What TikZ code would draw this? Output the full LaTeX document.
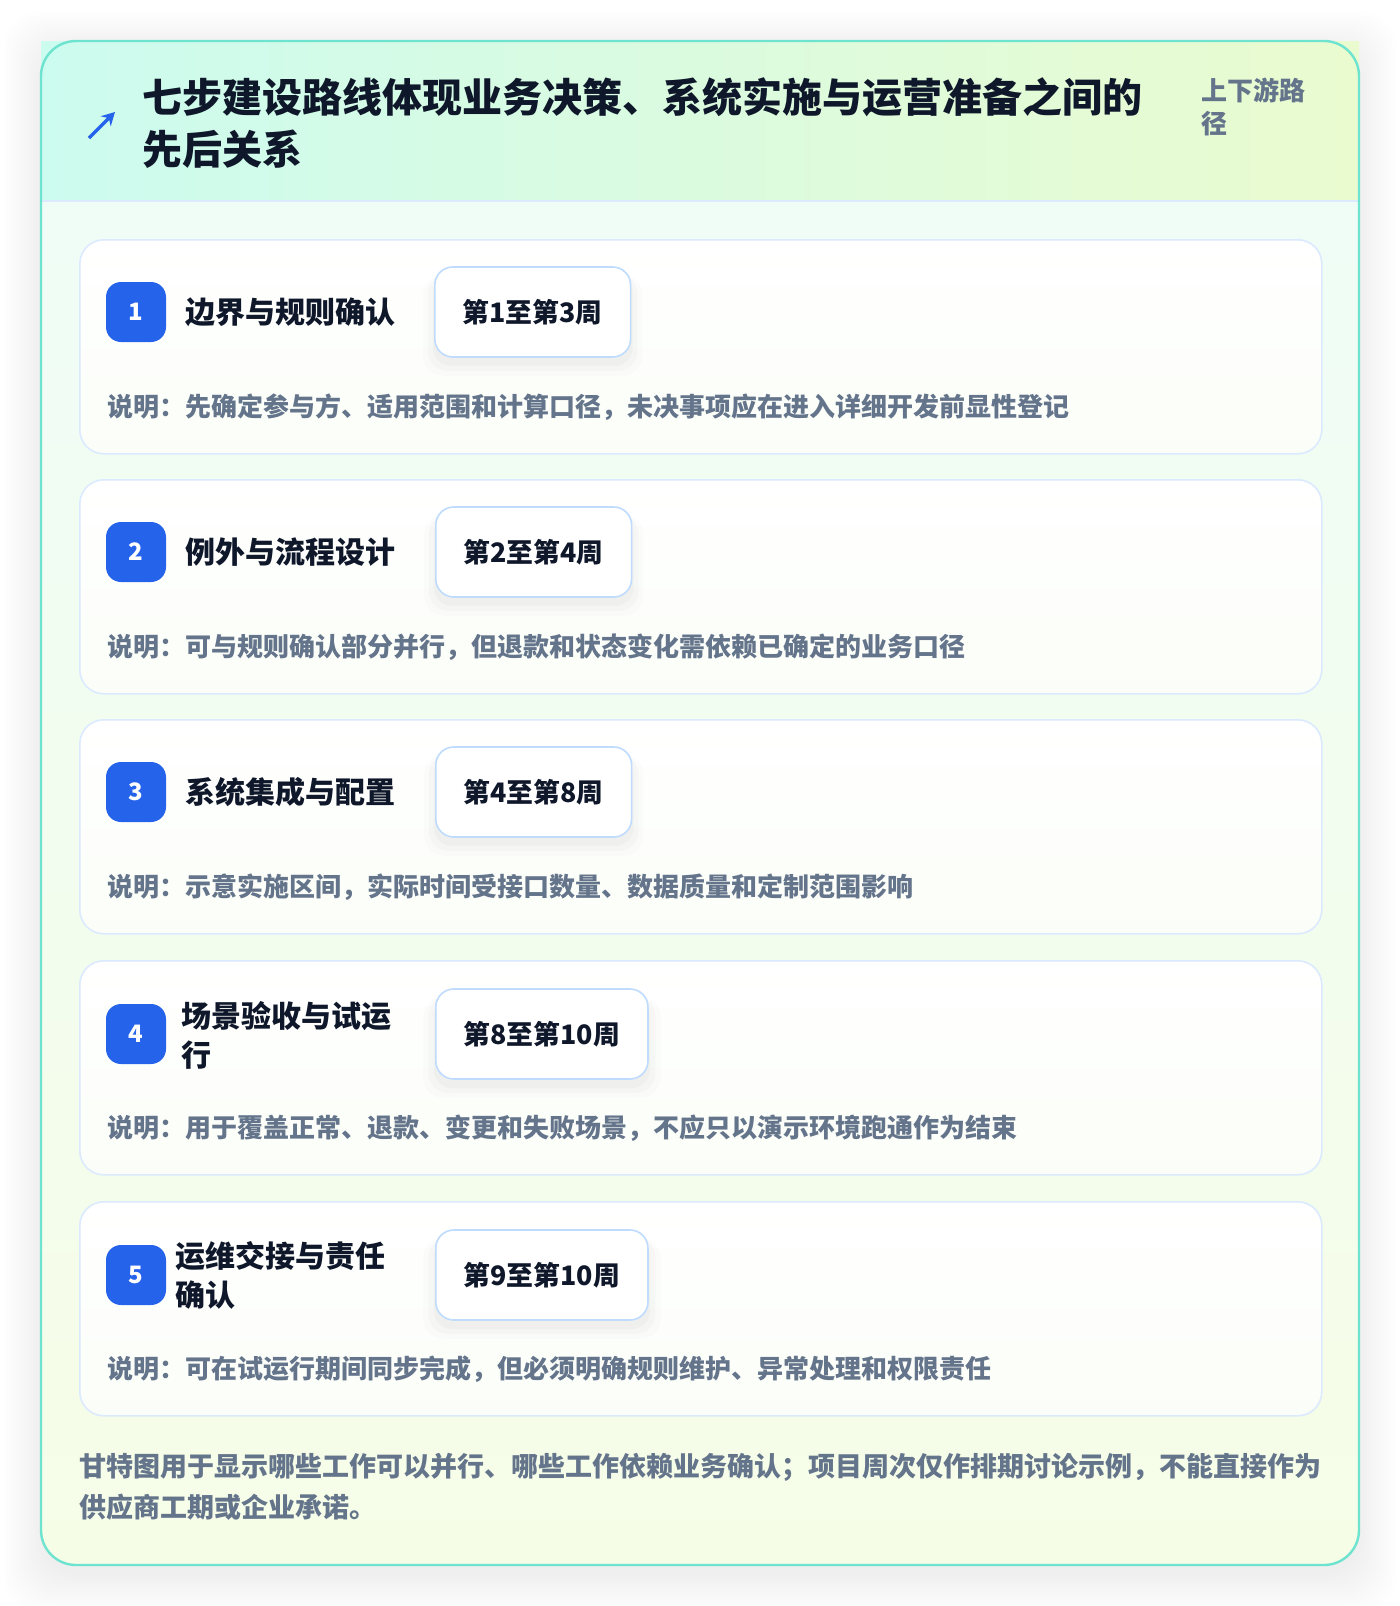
\documentclass[tikz,border=0pt]{standalone}
\usepackage{fontspec}
\setmainfont{Noto Sans CJK SC}
\usetikzlibrary{arrows.meta,shadows}
\definecolor{HeadL}{HTML}{CCFBEF}
\definecolor{HeadR}{HTML}{EAFBCF}
\definecolor{BodyT}{HTML}{EFFDF8}
\definecolor{BodyB}{HTML}{F6FDE7}
\definecolor{CardB}{HTML}{FBFEF8}
\definecolor{Frame}{HTML}{6EE3CF}
\definecolor{CardLine}{HTML}{DBEAFE}
\definecolor{PillLine}{HTML}{BFDBFE}
\definecolor{Badge}{HTML}{2563EB}
\definecolor{Ink}{HTML}{0F172A}
\definecolor{Muted}{HTML}{64748B}
\tikzset{
  cardbox/.style={draw=CardLine, line width=0.8pt, rounded corners=12pt, top color=white, bottom color=CardB,
    minimum width=621pt, minimum height=107pt, anchor=north west, inner sep=0pt},
  badge/.style={fill=Badge, rounded corners=7.5pt, minimum width=30pt, minimum height=30pt, inner sep=0pt,
    text=white, font=\bfseries\fontsize{12pt}{12pt}\selectfont},
  steptitle/.style={anchor=west, inner sep=0pt, text=Ink, align=left, font=\bfseries\fontsize{15pt}{19.5pt}\selectfont},
  pill/.style={anchor=west, draw=PillLine, line width=0.8pt, fill=white, rounded corners=9pt,
    minimum height=45pt, inner xsep=14pt, inner ysep=0pt, text=Ink, font=\bfseries\fontsize{13.4pt}{16pt}\selectfont,
    general shadow={fill=black, opacity=0.012, shadow yshift=-6pt, shadow scale=1.12},
    general shadow={fill=black, opacity=0.018, shadow yshift=-5pt, shadow scale=1.07},
    general shadow={fill=black, opacity=0.022, shadow yshift=-4pt, shadow scale=1.02}},
  desc/.style={anchor=west, inner sep=0pt, text=Muted, font=\bfseries\fontsize{13pt}{16pt}\selectfont},
  headtitle/.style={anchor=west, inner sep=0pt, text=Ink, align=left, font=\bfseries\fontsize{20pt}{26pt}\selectfont},
  headsub/.style={anchor=west, inner sep=0pt, text=Muted, align=left, font=\bfseries\fontsize{13pt}{16.5pt}\selectfont},
  footnote/.style={anchor=west, inner sep=0pt, text=Muted, align=left, font=\bfseries\fontsize{13.5pt}{20.5pt}\selectfont},
}
\begin{document}
\begin{tikzpicture}[x=0.5pt,y=-0.5pt]
\useasboundingbox (0,0) rectangle (1400,1606);
\fill[white] (0,0) rectangle (1400,1606);
% outer soft shadow
\foreach \i in {0,...,15}{
  \fill[black, opacity=0.005, rounded corners=18pt] ({41-2.5*\i},{49-2.5*\i}) rectangle ({1359+2.5*\i},{1575+2.5*\i});
}
% body
\path[rounded corners=17.5pt, top color=BodyT, bottom color=BodyB] (41,41) rectangle (1359,1565);
% header band
\path[left color=HeadL, right color=HeadR] (41,41) rectangle (1359,201);
\draw[CardLine, line width=1pt] (41,201) -- (1359,201);
% frame
\draw[Frame, line width=1.2pt, rounded corners=17.5pt] (41,41) rectangle (1359,1565);

% header contents
\coordinate (a0) at (89,138);
\coordinate (a1) at (115,112);
\draw[Badge, line width=1.6pt, -{Stealth[length=6.5pt,width=7pt]}] (a0) -- (a1);
\node[headtitle] (title) at (142,123.5) {七步建设路线体现业务决策、系统实施与运营准备之间的\\先后关系};
\node[headsub] (sub) at (1201,106.5) {上下游路\\径};

% card 1
\node[cardbox] (c1) at (79,239) {};
\node[badge] (b1) at (136,312) {1};
\node[steptitle] (t1) at (185,312) {边界与规则确认};
\node[pill] (p1) at (434,312) {第1至第3周};
\node[desc] (d1) at (107,407) {说明：先确定参与方、适用范围和计算口径，未决事项应在进入详细开发前显性登记};

% card 2
\node[cardbox] (c2) at (79,479) {};
\node[badge] (b2) at (136,552) {2};
\node[steptitle] (t2) at (185,552) {例外与流程设计};
\node[pill] (p2) at (435,552) {第2至第4周};
\node[desc] (d2) at (107,647) {说明：可与规则确认部分并行，但退款和状态变化需依赖已确定的业务口径};

% card 3
\node[cardbox] (c3) at (79,719) {};
\node[badge] (b3) at (136,792) {3};
\node[steptitle] (t3) at (185,792) {系统集成与配置};
\node[pill] (p3) at (435,792) {第4至第8周};
\node[desc] (d3) at (107,887) {说明：示意实施区间，实际时间受接口数量、数据质量和定制范围影响};

% card 4
\node[cardbox] (c4) at (79,960) {};
\node[badge] (b4) at (136,1034) {4};
\node[steptitle] (t4) at (181,1035) {场景验收与试运\\行};
\node[pill] (p4) at (435,1034) {第8至第10周};
\node[desc] (d4) at (107,1128) {说明：用于覆盖正常、退款、变更和失败场景，不应只以演示环境跑通作为结束};

% card 5
\node[cardbox] (c5) at (79,1201) {};
\node[badge] (b5) at (136,1275) {5};
\node[steptitle] (t5) at (175,1275) {运维交接与责任\\确认};
\node[pill] (p5) at (435,1275) {第9至第10周};
\node[desc] (d5) at (107,1369) {说明：可在试运行期间同步完成，但必须明确规则维护、异常处理和权限责任};

% footer
\node[footnote] (foot) at (79,1486.5) {甘特图用于显示哪些工作可以并行、哪些工作依赖业务确认；项目周次仅作排期讨论示例，不能直接作为\\供应商工期或企业承诺。};
\end{tikzpicture}
\end{document}
